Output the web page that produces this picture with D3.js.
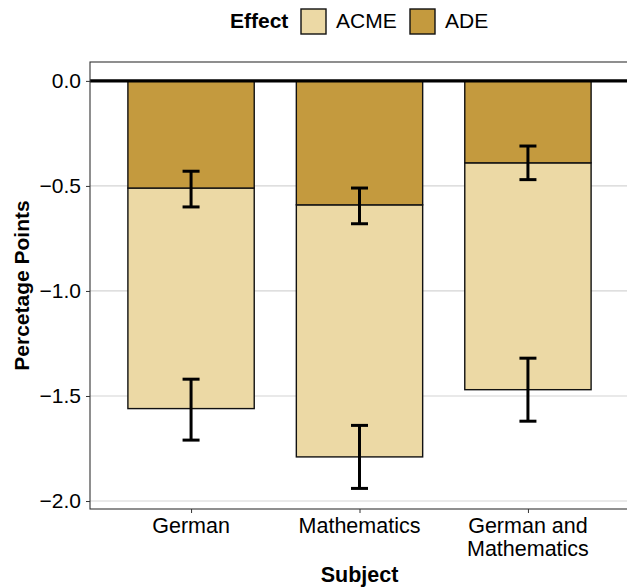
<!DOCTYPE html>
<html>
<head>
<meta charset="utf-8">
<script src="https://cdn.jsdelivr.net/npm/d3@7"></script>
<style>
  body { margin: 0; background: #fff; }
  text { font-family: "Liberation Sans", Arial, sans-serif; }
</style>
</head>
<body>
<svg id="chart" width="627" height="587"></svg>
<script>
// Data (percentage points)
const subjects = ["German", "Mathematics", "German and Mathematics"];
const subjectLabels = [["German"], ["Mathematics"], ["German and", "Mathematics"]];
const ade = [-0.51, -0.59, -0.39];
const adeLow = [-0.60, -0.68, -0.47];
const adeHigh = [-0.43, -0.51, -0.31];
const acme = [-1.05, -1.20, -1.08];
const acmeLow = [-1.20, -1.35, -1.23];
const acmeHigh = [-0.91, -1.05, -0.93];
const yTicks = [0, -0.5, -1, -1.5, -2];
const effects = ["ACME", "ADE"];
const colors = { ACME: "#ecd9a5", ADE: "#c49a3e" };

const svg = d3.select("#chart");
const panel = { left: 90, right: 629, top: 62, bottom: 509 };

// scales
const x = d3.scalePoint().domain(subjects).range([panel.left, panel.right]).padding(0.6);
const y = d3.scaleLinear().domain([-2.038, 0.09]).range([panel.bottom, panel.top]);
const barW = x.step() * 0.75;

// gridlines
svg.append("g")
  .selectAll("line")
  .data(yTicks)
  .enter()
  .append("line")
  .attr("x1", panel.left).attr("x2", panel.right)
  .attr("y1", (d) => y(d)).attr("y2", (d) => y(d))
  .attr("stroke", "#d4d4d4")
  .attr("stroke-width", 1.2);

// stacked bars: ADE from 0, ACME below it
const rows = subjects.map((s, i) => ({
  subject: s,
  ade: ade[i], adeLow: adeLow[i], adeHigh: adeHigh[i],
  total: ade[i] + acme[i],
  totLow: ade[i] + acmeLow[i], totHigh: ade[i] + acmeHigh[i],
}));

const bars = svg.append("g");
bars.selectAll("rect.acme")
  .data(rows)
  .enter()
  .append("rect")
  .attr("x", (d) => x(d.subject) - barW / 2)
  .attr("y", (d) => y(d.ade))
  .attr("width", barW)
  .attr("height", (d) => y(d.total) - y(d.ade))
  .attr("fill", colors.ACME)
  .attr("stroke", "#111")
  .attr("stroke-width", 1.4);

bars.selectAll("rect.ade")
  .data(rows)
  .enter()
  .append("rect")
  .attr("x", (d) => x(d.subject) - barW / 2)
  .attr("y", y(0))
  .attr("width", barW)
  .attr("height", (d) => y(d.ade) - y(0))
  .attr("fill", colors.ADE)
  .attr("stroke", "#111")
  .attr("stroke-width", 1.4);

// error bars
const errs = [];
rows.forEach((d) => {
  errs.push({ subject: d.subject, lo: d.adeLow, hi: d.adeHigh });
  errs.push({ subject: d.subject, lo: d.totLow, hi: d.totHigh });
});
const capW = 17;
const eg = svg.append("g").attr("stroke", "#000").attr("stroke-width", 3);
errs.forEach((e) => {
  const cx = x(e.subject);
  eg.append("line").attr("x1", cx).attr("x2", cx).attr("y1", y(e.hi)).attr("y2", y(e.lo));
  eg.append("line").attr("x1", cx - capW / 2).attr("x2", cx + capW / 2).attr("y1", y(e.hi)).attr("y2", y(e.hi));
  eg.append("line").attr("x1", cx - capW / 2).attr("x2", cx + capW / 2).attr("y1", y(e.lo)).attr("y2", y(e.lo));
});

// thick zero line
svg.append("line")
  .attr("x1", panel.left).attr("x2", panel.right)
  .attr("y1", y(0)).attr("y2", y(0))
  .attr("stroke", "#000")
  .attr("stroke-width", 3.2);

// panel border
svg.append("rect")
  .attr("x", panel.left).attr("y", panel.top)
  .attr("width", panel.right - panel.left)
  .attr("height", panel.bottom - panel.top)
  .attr("fill", "none")
  .attr("stroke", "#333")
  .attr("stroke-width", 1.1);

// y axis
const yAxis = svg.append("g")
  .attr("transform", `translate(${panel.left},0)`)
  .call(d3.axisLeft(y).tickValues(yTicks).tickSize(4).tickPadding(5)
    .tickFormat((d) => d3.format(".1f")(d)));
yAxis.select(".domain").remove();
yAxis.selectAll(".tick line").attr("stroke", "#333");
yAxis.selectAll(".tick text")
  .attr("fill", "#000")
  .style("font-size", "21px")
  .style("font-family", "'Liberation Sans', Arial, sans-serif");

// x axis
const xAxis = svg.append("g")
  .attr("transform", `translate(0,${panel.bottom})`)
  .call(d3.axisBottom(x).tickSize(4).tickFormat(""));
xAxis.select(".domain").remove();
xAxis.selectAll(".tick line").attr("stroke", "#333");

subjects.forEach((s, i) => {
  const t = svg.append("text")
    .attr("x", x(s))
    .attr("y", 533)
    .attr("text-anchor", "middle")
    .style("font-size", "21.5px")
    .attr("fill", "#000");
  subjectLabels[i].forEach((line, j) => {
    t.append("tspan").attr("x", x(s)).attr("dy", j === 0 ? 0 : 23).text(line);
  });
});

// axis titles
svg.append("text")
  .attr("x", (panel.left + panel.right) / 2)
  .attr("y", 582)
  .attr("text-anchor", "middle")
  .style("font-size", "21.5px")
  .style("font-weight", "bold")
  .text("Subject");

svg.append("text")
  .attr("transform", `translate(29,${(panel.top + panel.bottom) / 2}) rotate(-90)`)
  .attr("text-anchor", "middle")
  .style("font-size", "21px")
  .style("font-weight", "bold")
  .text("Percetage Points");

// legend
const legend = svg.append("g");
legend.append("text")
  .attr("x", 230).attr("y", 28)
  .style("font-size", "21px")
  .style("font-weight", "bold")
  .text("Effect");
const legendX = [301, 410];
effects.forEach((e, i) => {
  legend.append("rect")
    .attr("x", legendX[i]).attr("y", 9)
    .attr("width", 25).attr("height", 25)
    .attr("fill", colors[e])
    .attr("stroke", "#111")
    .attr("stroke-width", 1.4);
  legend.append("text")
    .attr("x", legendX[i] + 35).attr("y", 28)
    .style("font-size", "21px")
    .text(e);
});
</script>
</body>
</html>
